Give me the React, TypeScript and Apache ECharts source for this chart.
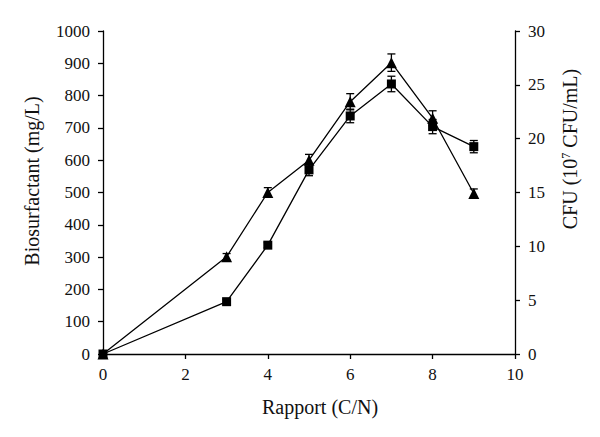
import React, { useEffect, useRef } from "react";
import * as echarts from "echarts";

const ratios = [0, 3, 4, 5, 6, 7, 8, 9];
const triangleValues = [0, 301, 500, 600, 781, 902, 730, 497];
const triangleErrors = [0, 10, 15, 18, 25, 27, 23, 14];
const squareValues = [0, 162, 337, 570, 737, 836, 704, 642];
const squareErrors = [0, 7, 8, 18, 21, 24, 22, 19];

const FONT = "Liberation Serif";

function errorSeries(values: number[], errs: number[]) {
  return {
    type: "custom",
    yAxisIndex: 0,
    z: 1,
    silent: true,
    data: ratios.map((x, i) => [x, values[i], errs[i]]),
    renderItem: (params: any, api: any) => {
      const x = api.value(0);
      const y = api.value(1);
      const e = api.value(2);
      if (!e) return null;
      const top = api.coord([x, y + e]);
      const bot = api.coord([x, y - e]);
      const w = 4;
      const style = { stroke: "#000", lineWidth: 1.3 };
      return {
        type: "group",
        children: [
          { type: "line", shape: { x1: top[0], y1: top[1], x2: bot[0], y2: bot[1] }, style },
          { type: "line", shape: { x1: top[0] - w, y1: top[1], x2: top[0] + w, y2: top[1] }, style },
          { type: "line", shape: { x1: bot[0] - w, y1: bot[1], x2: bot[0] + w, y2: bot[1] }, style },
        ],
      };
    },
  };
}

export default function App() {
  const ref = useRef<HTMLDivElement>(null);
  useEffect(() => {
    if (!ref.current) return;
    const chart = echarts.init(ref.current, undefined, { renderer: "svg" });
    const axisLine = { show: true, lineStyle: { color: "#000", width: 1.3 } };
    const axisTick = { show: true, inside: false, length: 5, lineStyle: { color: "#000", width: 1.3 } };
    const axisLabel = { color: "#111", fontFamily: FONT, fontSize: 17, margin: 13, formatter: (v: number) => String(v) };
    const titleStyle = { fill: "#111", font: `20px "${FONT}"`, align: "center", verticalAlign: "middle" };
    chart.setOption({
      animation: false,
      backgroundColor: "#fff",
      grid: { left: 103, right: 85, top: 31, bottom: 83 },
      xAxis: {
        type: "value",
        min: 0,
        max: 10,
        interval: 2,
        axisLine: { ...axisLine, onZero: false },
        axisTick,
        axisLabel: { ...axisLabel, margin: 12 },
        splitLine: { show: false },
      },
      yAxis: [
        {
          type: "value",
          min: 0,
          max: 1000,
          interval: 100,
          axisLine,
          axisTick,
          axisLabel,
          splitLine: { show: false },
        },
        {
          type: "value",
          position: "right",
          min: 0,
          max: 30,
          interval: 5,
          axisLine,
          axisTick,
          axisLabel,
          splitLine: { show: false },
        },
      ],
      graphic: [
        { type: "text", x: 320, y: 407, style: { ...titleStyle, text: "Rapport (C/N)" } },
        { type: "text", x: 32, y: 181, rotation: Math.PI / 2, style: { ...titleStyle, text: "Biosurfactant (mg/L)" } },
        {
          type: "text",
          x: 570,
          y: 149,
          rotation: Math.PI / 2,
          style: {
            ...titleStyle,
            text: "CFU (10{sup|7} CFU/mL)",
            rich: {
              sup: { font: `12px "${FONT}"`, fill: "#111", verticalAlign: "top", padding: [0, 0, 8, 0] },
            },
          },
        },
      ],
      series: [
        errorSeries(triangleValues, triangleErrors),
        errorSeries(squareValues, squareErrors),
        {
          type: "line",
          name: "Biosurfactant",
          yAxisIndex: 0,
          z: 3,
          data: ratios.map((x, i) => [x, triangleValues[i]]),
          symbol: "triangle",
          symbolSize: 11,
          itemStyle: { color: "#000" },
          lineStyle: { color: "#000", width: 1.3 },
        },
        {
          type: "line",
          name: "CFU",
          yAxisIndex: 0,
          z: 3,
          data: ratios.map((x, i) => [x, squareValues[i]]),
          symbol: "rect",
          symbolSize: 9,
          itemStyle: { color: "#000" },
          lineStyle: { color: "#000", width: 1.3 },
        },
      ],
    });
    return () => chart.dispose();
  }, []);
  return <div ref={ref} style={{ width: 600, height: 437, margin: -8 }} />;
}
